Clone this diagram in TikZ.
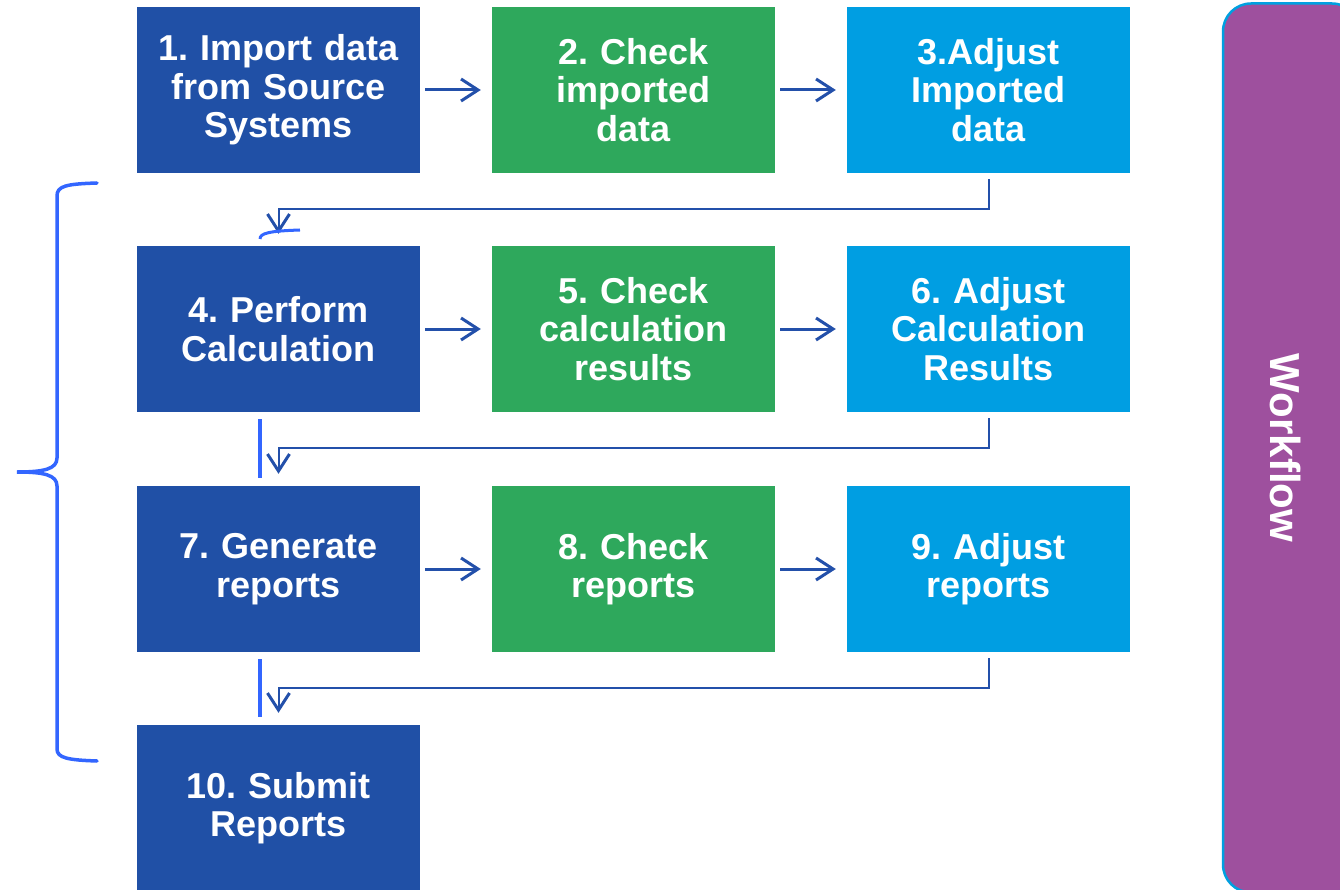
\documentclass[tikz,border=0pt]{standalone}
\usepackage{fontspec}
\setmainfont{Liberation Sans}
\usetikzlibrary{arrows.meta}
\frenchspacing

\definecolor{stepblue}{RGB}{32,80,166}
\definecolor{stepgreen}{RGB}{46,168,92}
\definecolor{steplight}{RGB}{0,158,226}
\definecolor{wfpurple}{RGB}{158,80,158}
\definecolor{wfborder}{RGB}{0,160,224}
\definecolor{linkblue}{RGB}{35,80,170}
\definecolor{penblue}{RGB}{51,102,255}

\tikzstyle{task}=[rectangle,minimum width=283pt,minimum height=166pt,inner sep=0pt,text width=275pt,align=center,text=white,font=\fontsize{36}{38.5}\selectfont\bfseries]
\tikzstyle{edge} = [draw,line width=2pt,linkblue,-{Straight Barb[length=17pt,width=22pt,line width=3pt]}]
\tikzstyle{pen} = [draw,line width=3.5pt,penblue]
\tikzstyle{wfbar}=[rectangle,rounded corners=28pt,draw=wfborder,line width=2.5pt,fill=wfpurple,minimum width=137pt,minimum height=889pt]

\begin{document}
\begin{tikzpicture}[x=1pt,y=-1pt]
     \useasboundingbox (0,0) rectangle (1340,890);

     \foreach \pos/\name/\col/\txt in {{(278.5,90)/imp/stepblue/{1. Import data\\from Source\\Systems}},
       {(633.5,90)/chkimp/stepgreen/{2. Check\\imported\\data}},
       {(988.5,90)/adjimp/steplight/{3.Adjust\\Imported\\data}},
       {(278.5,329)/calc/stepblue/{4. Perform\\Calculation}},
       {(633.5,329)/chkcalc/stepgreen/{5. Check\\calculation\\results}},
       {(988.5,329)/adjcalc/steplight/{6. Adjust\\Calculation\\Results}},
       {(278.5,569)/gen/stepblue/{7. Generate\\reports}},
       {(633.5,569)/chkrep/stepgreen/{8. Check\\reports}},
       {(988.5,569)/adjrep/steplight/{9. Adjust\\reports}},
       {(278.5,808)/submit/stepblue/{10. Submit\\Reports}}}
     \node[task,fill=\col] (\name) at \pos {\txt};

     \foreach \source/ \dest in {imp/chkimp, chkimp/adjimp, calc/chkcalc, chkcalc/adjcalc, gen/chkrep, chkrep/adjrep}
     \path[edge,line width=3pt,shorten <=5pt,shorten >=11pt] (\source) -- (\dest);

     \foreach \source/ \dest in {adjimp/calc, adjcalc/gen, adjrep/submit}
     \path[edge,shorten <=6pt,shorten >=12pt] (\source.south) -- ++(0,36) -| (\dest.north);

     % workflow bar
     \node[wfbar] (wf) at (1291.5,448) {};
     \node[rotate=-90,text=white,font=\fontsize{42}{44}\selectfont\bfseries] (wflabel) at (1285,448) {Workflow};

     % pen marks
     \path[pen,line cap=round] (97,183) .. controls (66,184) and (57,186) .. (57,196) -- (57,458)
       .. controls (57,469) and (44,472) .. (17,472) .. controls (44,472) and (57,475) .. (57,486)
       -- (57,749) .. controls (57,758) and (68,760) .. (97,761);
     \path[pen,line width=3pt] (260,239) .. controls (260,233) and (270,231) .. (300,230);
     \path[pen] (260,419) -- (260,478);
     \path[pen] (260,659) -- (260,717);
   \end{tikzpicture}
\end{document}
